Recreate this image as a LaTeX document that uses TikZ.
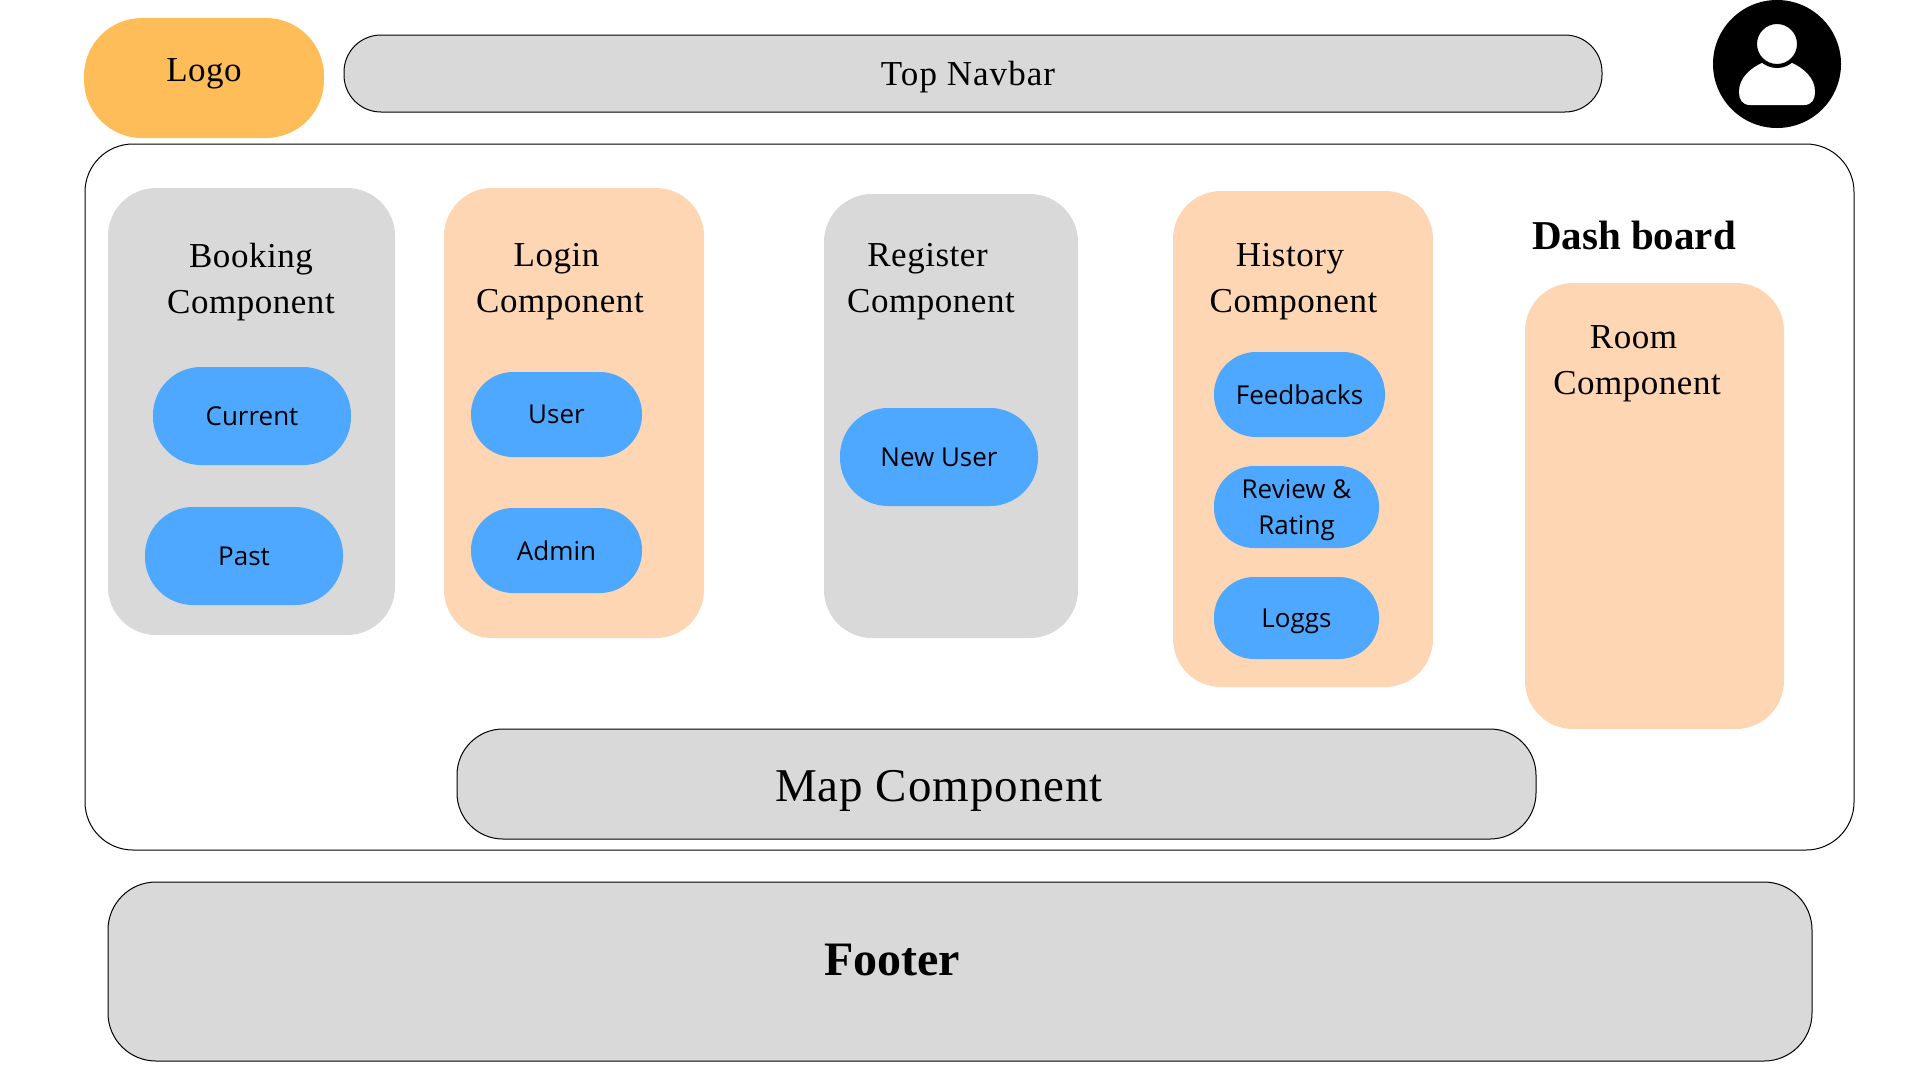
\documentclass[tikz,border=0pt]{standalone}
\usepackage{fontspec}
\setmainfont{Liberation Serif}
\newfontfamily\pillfont{Open Sans}
\definecolor{panelgray}{HTML}{D9D9D9}
\definecolor{panelpeach}{HTML}{FFD6B3}
\definecolor{pillblue}{HTML}{4FA8FF}
\definecolor{logoorange}{HTML}{FFBD59}
\tikzset{
  box/.style={inner sep=0pt, outer sep=0pt, rounded corners=48pt},
  graybox/.style={box, fill=panelgray},
  peachbox/.style={box, fill=panelpeach},
  barbox/.style={box, fill=panelgray, draw=black, line width=1pt},
  pill/.style={inner sep=0pt, outer sep=0pt, fill=pillblue, align=center,
    font=\pillfont\fontsize{26}{36}\selectfont},
  title/.style={inner sep=0pt, outer sep=0pt, align=center,
    font=\addfontfeature{LetterSpace=1.5}\fontsize{35}{46}\selectfont},
}
\begin{document}
\begin{tikzpicture}[x=1pt, y=-1pt]
  \useasboundingbox (0,0) rectangle (1920,1080);
  % top row
  \node[box, fill=logoorange, rounded corners=58pt, minimum width=240pt, minimum height=120pt] (logo) at (204,78) {};
  \node[title] (logotext) at (204,74) {Logo};
  \node[barbox, rounded corners=37pt, minimum width=1258pt, minimum height=77pt] (navbar) at (973,73.5) {};
  \node[title, font=\addfontfeature{LetterSpace=3}\fontsize{35}{46}\selectfont] (navbartext) at (968,77) {Top Navbar};
  \node[circle, fill=black, inner sep=0pt, minimum size=128pt] (avatar) at (1777,64) {};
  \fill[white] (1750,105) -- (1804,105) .. controls (1812,105) and (1815,99) .. (1815,92) .. controls (1815,78) and (1804,68) .. (1790,62) -- (1764,62) .. controls (1750,68) and (1739,78) .. (1739,92) .. controls (1739,99) and (1742,105) .. (1750,105) -- cycle;
  \node[circle, fill=white, draw=black, line width=4pt, inner sep=0pt, minimum size=44pt] (avatarhead) at (1777,44) {};
  % main panel
  \node[box, draw=black, line width=1pt, minimum width=1769pt, minimum height=706pt] (mainpanel) at (969.5,497) {};
  \node[graybox, minimum width=287pt, minimum height=447pt] (booking) at (251.5,411.5) {};
  \node[title] (bookingtext) at (251,282) {Booking\\Component};
  \node[pill, rounded corners=48pt, minimum width=198pt, minimum height=98pt] (current) at (252,416) {Current};
  \node[pill, rounded corners=48pt, minimum width=198pt, minimum height=98pt] (past) at (244,556) {Past};
  \node[peachbox, minimum width=260pt, minimum height=450pt] (login) at (574,413) {};
  \node[title] (logintext) at (560,282) {Login\hspace*{7pt}\\Component};
  \node[pill, rounded corners=42pt, minimum width=171pt, minimum height=85pt] (user) at (556.5,414.5) {User};
  \node[pill, rounded corners=42pt, minimum width=171pt, minimum height=85pt] (admin) at (556.5,550.5) {Admin};
  \node[graybox, minimum width=254pt, minimum height=444pt] (register) at (951,416) {};
  \node[title] (registertext) at (931,282) {Register\hspace*{7pt}\\Component};
  \node[pill, rounded corners=48pt, minimum width=198pt, minimum height=98pt] (newuser) at (939,457) {New User};
  \node[peachbox, minimum width=260pt, minimum height=496pt] (history) at (1303,439) {};
  \node[title] (historytext) at (1293.5,282) {History\hspace*{7pt}\\Component};
  \node[pill, rounded corners=42pt, minimum width=171pt, minimum height=85pt] (feedbacks) at (1299.5,394.5) {Feedbacks};
  \node[pill, rounded corners=40pt, minimum width=165pt, minimum height=82pt, text depth=0pt] (review) at (1296.5,507) {Review \&\\Rating};
  \node[pill, rounded corners=40pt, minimum width=165pt, minimum height=82pt, text depth=0pt] (loggs) at (1296.5,618) {Loggs};
  \node[title, font=\bfseries\fontsize{41}{46}\selectfont] (dashtext) at (1634,235) {Dash board};
  \node[peachbox, minimum width=259pt, minimum height=446pt] (room) at (1654.5,506) {};
  \node[title] (roomtext) at (1637,364) {Room\hspace*{7pt}\\Component};
  \node[barbox, rounded corners=46pt, minimum width=1079pt, minimum height=110pt] (map) at (996.5,784) {};
  \node[title, font=\addfontfeature{LetterSpace=2}\fontsize{47}{56}\selectfont] (maptext) at (939,791) {Map Component};
  % footer
  \node[barbox, minimum width=1704pt, minimum height=179pt] (footer) at (960,971.5) {};
  \node[title, font=\bfseries\fontsize{48}{56}\selectfont] (footertext) at (892,960) {Footer};
\end{tikzpicture}
\end{document}
